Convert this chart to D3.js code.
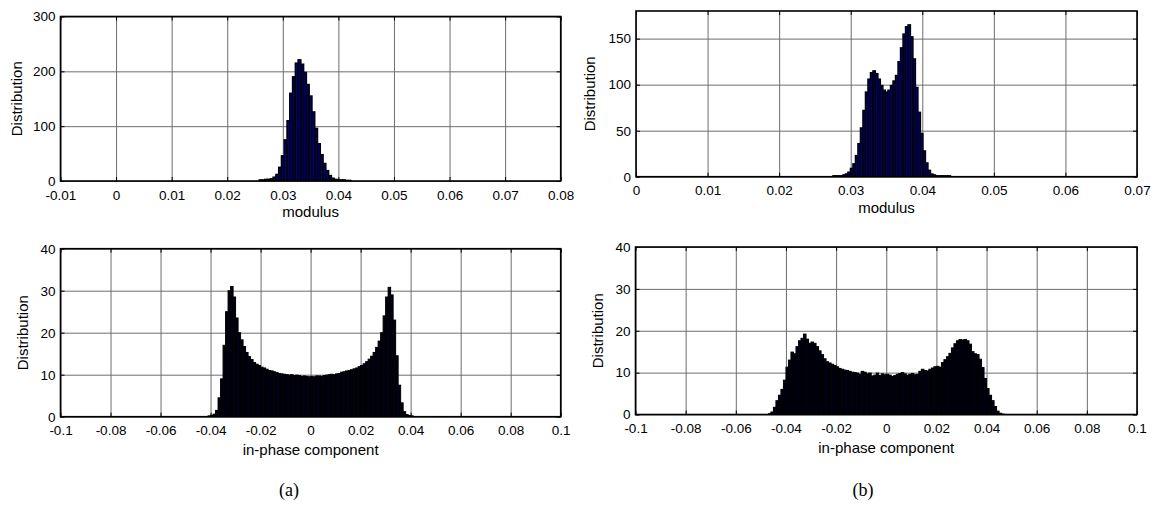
<!DOCTYPE html>
<html>
<head>
<meta charset="utf-8">
<script src="https://cdn.jsdelivr.net/npm/d3@7"></script>
<style>
  body { margin: 0; background: #fff; }
  svg { display: block; }
</style>
</head>
<body>
<div id="chart"></div>
<script>
// ---- data ----
// (a) modulus histogram: regular bins starting at modA_lo, width modA_bw
var modA_lo = 0.02575, modA_bw = 0.0005;
var modA_counts = [2, 2, 3, 3, 4, 7, 12, 25, 46, 75,
  110, 160, 190, 215, 221, 213, 198, 176, 155, 126,
  96, 68, 48, 32, 19, 10, 5, 3, 2, 2,
  2, 1, 1];

// (b) modulus histogram
var modB_lo = 0.0275, modB_bw = 0.00035;
var modB_counts = [1, 1, 1, 1, 2, 3, 5, 9, 14, 23,
  36, 53, 72, 92, 106, 113, 115, 112, 106, 99,
  94, 92, 94, 99, 104, 110, 125, 140, 155, 163,
  165, 152, 128, 97, 70, 47, 28, 15, 7, 3,
  2, 1, 1, 1, 1, 1, 1];

// (a) in-phase component histogram
var inA_lo = -0.041, inA_bw = 0.001;
var inA_counts = [0.2, 0.3, 0.6, 1.5, 4.5, 9, 17, 25, 30, 31,
  28.5, 23.5, 20, 18.3, 16.7, 15.3, 14.3, 13.6, 12.9, 12.5,
  12.2, 11.8, 11.6, 11.3, 11.0, 10.9, 10.7, 10.5, 10.3, 10.2,
  10.1, 10.0, 9.9, 10.0, 9.8, 9.9, 9.8, 9.6, 9.7, 9.6,
  9.5, 9.6, 9.5, 9.7, 9.7, 9.6, 9.8, 9.9, 10.0, 10.1,
  10.0, 10.2, 10.3, 10.6, 10.7, 10.9, 11.0, 11.2, 11.4, 11.6,
  11.9, 12.2, 12.6, 13.1, 13.7, 14.4, 15.3, 16.5, 18, 20,
  24, 28.5, 30.8, 29, 23, 14.5, 7.5, 3.3, 1.2, 0.5,
  0.3, 0.2];

// (b) in-phase component histogram
var inB_lo = -0.047, inB_bw = 0.001;
var inB_counts = [0.2, 0.6, 1.7, 3.3, 4.6, 6.0, 8.2, 11.3, 13.0, 14.9,
  14.5, 16.2, 17.6, 18.2, 19.2, 18.0, 17.0, 17.3, 17.0, 16.2,
  15.2, 14.3, 13.3, 12.6, 12.3, 12.0, 11.7, 11.4, 11.0, 10.8,
  10.6, 10.5, 10.3, 10.1, 10.0, 9.9, 9.6, 10.3, 10.1, 9.7,
  9.9, 9.2, 9.4, 9.9, 9.3, 9.7, 9.5, 9.6, 9.4, 9.1,
  9.3, 9.6, 9.8, 10.0, 9.7, 9.4, 9.6, 9.8, 9.5, 9.6,
  10.3, 10.8, 10.5, 10.4, 10.8, 11.1, 11.4, 11.5, 11.3, 12.4,
  13.1, 13.8, 14.6, 15.9, 16.9, 17.6, 17.9, 17.8, 17.9, 17.6,
  16.8, 15.0, 14.5, 14.3, 13.2, 11.2, 8.6, 6.2, 4.6, 3.3,
  1.9, 0.8, 0.3, 0.1];

// ticks
var modA_xTicks = [-0.01, 0, 0.01, 0.02, 0.03, 0.04, 0.05, 0.06, 0.07, 0.08];
var modA_yTicks = [0, 100, 200, 300];
var modB_xTicks = [0, 0.01, 0.02, 0.03, 0.04, 0.05, 0.06, 0.07];
var modB_yTicks = [0, 50, 100, 150];
var in_xTicks = [-0.1, -0.08, -0.06, -0.04, -0.02, 0, 0.02, 0.04, 0.06, 0.08, 0.1];
var in_yTicks = [0, 10, 20, 30, 40];

var W = 1157, H = 505;
var FONT = "'Liberation Sans', Arial, sans-serif";

var svg = d3.select("#chart").append("svg")
  .attr("width", W)
  .attr("height", H)
  .style("background", "#fff");

function drawHist(p) {
  var w = p.right - p.left, h = p.bottom - p.top;
  var g = svg.append("g").attr("transform", "translate(" + p.left + "," + p.top + ")");

  var x = d3.scaleLinear().domain(p.xDomain).range([0, w]);
  var y = d3.scaleLinear().domain(p.yDomain).range([h, 0]);

  // grid lines
  g.append("g").attr("class", "grid")
    .attr("transform", "translate(0," + h + ")")
    .call(d3.axisBottom(x).tickValues(p.xTicks).tickSize(-h).tickFormat(""));
  g.append("g").attr("class", "grid")
    .call(d3.axisLeft(y).tickValues(p.yTicks).tickSize(-w).tickFormat(""));
  g.selectAll(".grid .domain").remove();
  g.selectAll(".grid line").attr("stroke", "#6e6e6e").attr("stroke-width", 1);

  // bars
  var clipId = "clip" + p.id;
  g.append("clipPath").attr("id", clipId)
    .append("rect").attr("width", w).attr("height", h);
  g.append("g").attr("clip-path", "url(#" + clipId + ")")
    .selectAll("rect")
    .data(p.counts)
    .enter()
    .append("rect")
    .attr("x", (d, i) => x(p.lo + i * p.bw))
    .attr("width", (d, i) => x(p.lo + (i + 1) * p.bw) - x(p.lo + i * p.bw))
    .attr("y", (d) => y(d))
    .attr("height", (d) => h - y(d))
    .attr("fill", p.fill)
    .attr("stroke", "#000")
    .attr("stroke-width", p.edge);

  // axes with labels (inward ticks)
  g.append("g").attr("class", "ax")
    .attr("transform", "translate(0," + h + ")")
    .call(d3.axisBottom(x).tickValues(p.xTicks).tickFormat((d) => String(d))
      .tickSizeInner(-4).tickSizeOuter(0).tickPadding(9));
  g.append("g").attr("class", "ax")
    .call(d3.axisLeft(y).tickValues(p.yTicks).tickFormat((d) => String(d))
      .tickSizeInner(-4).tickSizeOuter(0).tickPadding(5));
  // mirrored ticks on top / right
  g.append("g").attr("class", "ax")
    .call(d3.axisTop(x).tickValues(p.xTicks).tickFormat("").tickSizeInner(-4).tickSizeOuter(0));
  g.append("g").attr("class", "ax")
    .attr("transform", "translate(" + w + ",0)")
    .call(d3.axisRight(y).tickValues(p.yTicks).tickFormat("").tickSizeInner(-4).tickSizeOuter(0));

  g.selectAll(".ax .domain").remove();
  g.selectAll(".ax line").attr("stroke", "#000");
  g.selectAll(".ax text")
    .attr("fill", "#000")
    .style("font-family", FONT)
    .style("font-size", "13.5px");

  // box
  g.append("rect")
    .attr("width", w).attr("height", h)
    .attr("fill", "none")
    .attr("stroke", "#000")
    .attr("stroke-width", 1.6);

  // axis titles
  svg.append("text")
    .attr("transform", "translate(" + (p.left - p.ylabOff) + "," + ((p.top + p.bottom) / 2) + ") rotate(-90)")
    .attr("text-anchor", "middle")
    .attr("dy", "0.35em")
    .style("font-family", FONT)
    .style("font-size", "15px")
    .text("Distribution");

  svg.append("text")
    .attr("x", (p.left + p.right) / 2)
    .attr("y", p.bottom + p.xlabOff)
    .attr("text-anchor", "middle")
    .style("font-family", FONT)
    .style("font-size", "15px")
    .text(p.xLabel);
}

drawHist({
  id: "a1", left: 60.5, right: 560.7, top: 16.5, bottom: 181,
  xDomain: [-0.01, 0.08], yDomain: [0, 300],
  xTicks: modA_xTicks, yTicks: modA_yTicks,
  lo: modA_lo, bw: modA_bw, counts: modA_counts, edge: 1.4, fill: "#00007a",
  xLabel: "modulus", ylabOff: 44, xlabOff: 36
});

drawHist({
  id: "b1", left: 636, right: 1137, top: 11, bottom: 176.7,
  xDomain: [0, 0.07], yDomain: [0, 180],
  xTicks: modB_xTicks, yTicks: modB_yTicks,
  lo: modB_lo, bw: modB_bw, counts: modB_counts, edge: 1.3, fill: "#00007a",
  xLabel: "modulus", ylabOff: 46, xlabOff: 36
});

drawHist({
  id: "a2", left: 60.5, right: 560.7, top: 248.7, bottom: 416.7,
  xDomain: [-0.1, 0.1], yDomain: [0, 40],
  xTicks: in_xTicks, yTicks: in_yTicks,
  lo: inA_lo, bw: inA_bw, counts: inA_counts, edge: 1, fill: "#000014",
  xLabel: "in-phase component", ylabOff: 38, xlabOff: 38
});

drawHist({
  id: "b2", left: 635.5, right: 1137, top: 247, bottom: 414.5,
  xDomain: [-0.1, 0.1], yDomain: [0, 40],
  xTicks: in_xTicks, yTicks: in_yTicks,
  lo: inB_lo, bw: inB_bw, counts: inB_counts, edge: 1, fill: "#000014",
  xLabel: "in-phase component", ylabOff: 38, xlabOff: 38
});

// sub-figure captions
svg.append("text")
  .attr("x", 289).attr("y", 496)
  .attr("text-anchor", "middle")
  .style("font-family", "'Liberation Serif', 'Times New Roman', serif")
  .style("font-size", "18px")
  .text("(a)");
svg.append("text")
  .attr("x", 863).attr("y", 496)
  .attr("text-anchor", "middle")
  .style("font-family", "'Liberation Serif', 'Times New Roman', serif")
  .style("font-size", "18px")
  .text("(b)");
</script>
</body>
</html>
